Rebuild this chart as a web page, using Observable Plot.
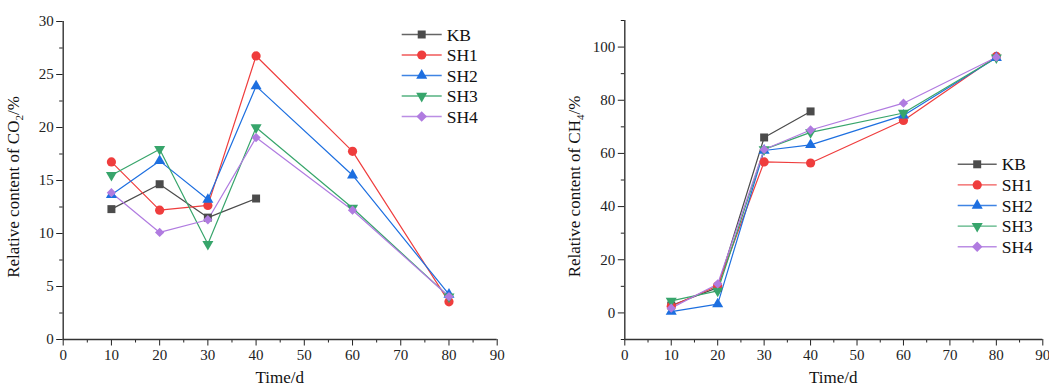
<!DOCTYPE html>
<html><head><meta charset="utf-8">
<script src="https://cdn.jsdelivr.net/npm/d3@7"></script>
<script src="https://cdn.jsdelivr.net/npm/@observablehq/plot@0.6"></script>
<style>
body{margin:0;background:#fff;}
#wrap{position:relative;width:1049px;height:387px;overflow:hidden;font-family:"Liberation Serif","Times New Roman",serif;}
#wrap svg{position:absolute;top:0;}
</style></head><body><div id="wrap"></div>
<script>
const days = [10, 20, 30, 40, 60, 80];
const seriesNames = ["KB", "SH1", "SH2", "SH3", "SH4"];
const seriesColors = ["#4b4b4b", "#ef3d3d", "#1d6fe0", "#37a56b", "#b07be0"];
const xTicks = [0, 10, 20, 30, 40, 50, 60, 70, 80, 90];

const co2_KB  = [12.3, 14.65, 11.5, 13.3];
const co2_SH1 = [16.75, 12.2, 12.65, 26.75, 17.75, 3.55];
const co2_SH2 = [13.65, 16.85, 13.2, 23.9, 15.5, 4.25];
const co2_SH3 = [15.5, 17.95, 9.0, 20.0, 12.4, 4.05];
const co2_SH4 = [13.85, 10.1, 11.3, 19.05, 12.2, 4.05];
const co2Ticks = [0, 5, 10, 15, 20, 25, 30];

const ch4_KB  = [2.8, 9.5, 66.0, 75.8];
const ch4_SH1 = [2.5, 10.2, 56.8, 56.4, 72.4, 96.5];
const ch4_SH2 = [0.5, 3.3, 61.1, 63.2, 74.3, 96.0];
const ch4_SH3 = [4.5, 8.3, 61.5, 67.9, 75.2, 96.0];
const ch4_SH4 = [1.8, 10.9, 61.5, 68.8, 78.9, 96.2];
const ch4Ticks = [0, 20, 40, 60, 80, 100];

const triDown = {
  draw(ctx, size) {
    const s3 = Math.sqrt(3);
    const y = -Math.sqrt(size / (s3 * 3));
    ctx.moveTo(0, -y * 2);
    ctx.lineTo(-s3 * y, y);
    ctx.lineTo(s3 * y, y);
    ctx.closePath();
  }
};
const symbols = ["square", "circle", "triangle", triDown, "diamond2"];
const symR = [4.5, 4.6, 4.1, 4.1, 4.2];

function toRows(arrs) {
  return arrs.map((vals, i) => vals.map((v, j) => ({series: seriesNames[i], day: days[j], value: v})));
}
const co2Rows = toRows([co2_KB, co2_SH1, co2_SH2, co2_SH3, co2_SH4]);
const ch4Rows = toRows([ch4_KB, ch4_SH1, ch4_SH2, ch4_SH3, ch4_SH4]);

function minorBetween(ticks) {
  const out = [];
  const step = ticks[1] - ticks[0];
  out.push(ticks[0] - step / 2);
  for (const t of ticks) out.push(t + step / 2);
  return out;
}

const wrap = document.getElementById("wrap");
const font = "'Liberation Serif','Times New Roman',serif";

function panel({left, width, mL, mR, mT, mB, yDomain, yMajor, yMinor, rows, titleMain, titleSub, legend}) {
  const height = 387;
  const marks = [
    Plot.axisX({ticks: xTicks, tickSize: 6.5, tickPadding: 3, label: null}),
    Plot.axisX({ticks: minorBetween(xTicks).filter(d => d > 0 && d < 90), tickSize: 3.5, tickFormat: () => "", label: null}),
    Plot.axisY({ticks: yMajor, tickSize: 6.5, tickPadding: 3, label: null}),
    Plot.axisY({ticks: yMinor.filter(d => d >= yDomain[0] && d <= yDomain[1]), tickSize: 3.5, tickFormat: () => "", label: null}),
    Plot.ruleX([0], {stroke: "#333", strokeWidth: 1.4}),
    Plot.ruleY([yDomain[0]], {stroke: "#333", strokeWidth: 1.4})
  ];
  rows.forEach((r, i) => {
    marks.push(Plot.line(r, {x: "day", y: "value", stroke: seriesColors[i], strokeWidth: 1.2}));
  });
  rows.forEach((r, i) => {
    marks.push(Plot.dot(r, {x: "day", y: "value", fill: seriesColors[i], stroke: "none", symbol: symbols[i], r: symR[i]}));
  });
  const svg = Plot.plot({
    width, height,
    marginLeft: mL, marginRight: mR, marginTop: mT, marginBottom: mB,
    x: {domain: [0, 90]},
    y: {domain: yDomain},
    style: {fontFamily: font, fontSize: "15px", color: "#222", background: "transparent"},
    marks
  });
  svg.style.left = left + "px";
  wrap.appendChild(svg);
  const s = d3.select(svg);
  // y title
  const t = s.append("text")
    .attr("transform", `translate(${mL - 44},${(mT + height - mB) / 2 + 7}) rotate(-90)`)
    .attr("text-anchor", "middle")
    .attr("font-family", font).attr("font-size", 17).attr("fill", "#111");
  t.append("tspan").text(titleMain);
  t.append("tspan").attr("font-size", 11).attr("dy", 4).text(titleSub);
  t.append("tspan").attr("dy", -4).text("/%");
  // x title
  s.append("text")
    .attr("x", (mL + width - mR) / 2).attr("y", 383)
    .attr("text-anchor", "middle")
    .attr("font-family", font).attr("font-size", 17).attr("fill", "#111")
    .text("Time/d");
  // legend
  seriesNames.forEach((name, i) => {
    const y = legend.y + i * legend.dy;
    s.append("line").attr("x1", legend.x).attr("x2", legend.x + legend.len)
      .attr("y1", y).attr("y2", y).attr("stroke", seriesColors[i]).attr("stroke-width", 1.4).attr("opacity", 0.85);
    const sym = typeof symbols[i] === "string"
      ? {square: d3.symbolSquare, circle: d3.symbolCircle, triangle: d3.symbolTriangle, diamond2: d3.symbolSquare}[symbols[i]]
      : symbols[i];
    s.append("path")
      .attr("d", d3.symbol(sym, Math.PI * symR[i] * symR[i])())
      .attr("transform", `translate(${legend.x + legend.len / 2},${y})` + (symbols[i] === "diamond2" ? " rotate(45)" : ""))
      .attr("fill", seriesColors[i]);
    s.append("text").attr("x", legend.x + legend.len + 5).attr("y", y + 6)
      .attr("text-anchor", "start")
      .attr("font-family", font).attr("font-size", 17.5).attr("fill", "#111").text(name);
  });
}

panel({
  left: 0, width: 525, mL: 62.7, mR: 28.3, mT: 21, mB: 48,
  yDomain: [0, 30], yMajor: co2Ticks, yMinor: minorBetween(co2Ticks),
  rows: co2Rows, titleMain: "Relative content of CO", titleSub: "2",
  legend: {x: 401.7, len: 40, y: 34.5, dy: 20.5}
});
panel({
  left: 525, width: 524, mL: 99.3, mR: 6.7, mT: 20, mB: 48,
  yDomain: [-10, 110], yMajor: ch4Ticks, yMinor: minorBetween(ch4Ticks),
  rows: ch4Rows, titleMain: "Relative content of CH", titleSub: "4",
  legend: {x: 957.7 - 525, len: 39, y: 164.3, dy: 20.6}
});
</script>
</body></html>
